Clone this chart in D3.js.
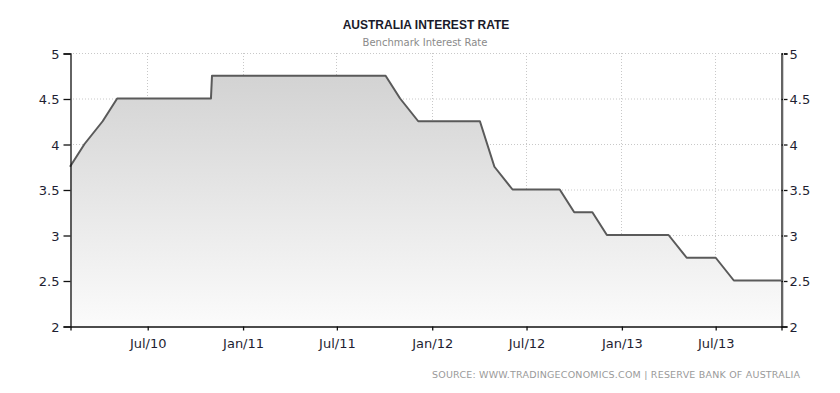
<!DOCTYPE html>
<html><head><meta charset="utf-8">
<script src="https://cdn.jsdelivr.net/npm/d3@7"></script>
<style>
body{margin:0;background:#fff;}
svg{display:block;}
.tick text{font-family:"DejaVu Sans",sans-serif;font-size:13px;fill:#1e1e32;}
</style></head>
<body><svg id="c" width="840" height="393"></svg>
<script>
const dates = ["2010-02-02","2010-03-02","2010-04-06","2010-05-04","2010-06-01","2010-07-06","2010-08-03","2010-09-07","2010-10-05","2010-11-01","2010-11-03","2010-12-07",
"2011-02-01","2011-03-01","2011-04-05","2011-05-03","2011-06-07","2011-07-05","2011-08-02","2011-09-06","2011-10-04","2011-11-01","2011-12-06",
"2012-02-07","2012-03-06","2012-04-03","2012-05-01","2012-06-05","2012-07-03","2012-08-07","2012-09-04","2012-10-02","2012-11-06","2012-12-04",
"2013-02-05","2013-03-05","2013-04-02","2013-05-07","2013-06-04","2013-07-02","2013-08-06","2013-09-03","2013-10-01","2013-11-05"];
const rates = [3.75,4.00,4.25,4.50,4.50,4.50,4.50,4.50,4.50,4.50,4.75,4.75,
4.75,4.75,4.75,4.75,4.75,4.75,4.75,4.75,4.75,4.50,4.25,
4.25,4.25,4.25,3.75,3.50,3.50,3.50,3.50,3.25,3.25,3.00,
3.00,3.00,3.00,2.75,2.75,2.75,2.50,2.50,2.50,2.50];
const yTicks = [2,2.5,3,3.5,4,4.5,5];
const xTickDates = ["2010-07-01","2011-01-01","2011-07-01","2012-01-01","2012-07-01","2013-01-01","2013-07-01"];
const xTickLabels = ["Jul/10","Jan/11","Jul/11","Jan/12","Jul/12","Jan/13","Jul/13"];
const title = "AUSTRALIA INTEREST RATE";
const subtitle = "Benchmark Interest Rate";
const source = "SOURCE: WWW.TRADINGECONOMICS.COM | RESERVE BANK OF AUSTRALIA";

const parse = d3.utcParse("%Y-%m-%d");
const data = dates.map((d,i)=>({date:parse(d), v:rates[i]}));
const L=70,R=781,T=53,B=326;
const svg = d3.select("#c");
const x = d3.scaleUtc().domain([parse("2010-02-02"),parse("2013-11-05")]).range([L,R]);
const y = d3.scaleLinear().domain([2,5]).range([B,T]);

const defs = svg.append("defs");
const g = defs.append("linearGradient").attr("id","ag").attr("gradientUnits","userSpaceOnUse")
  .attr("x1",0).attr("x2",0).attr("y1",T).attr("y2",B);
g.append("stop").attr("offset","0%").attr("stop-color","#cfcfcf");
g.append("stop").attr("offset","100%").attr("stop-color","#fbfbfb");

// grid
const xt = xTickDates.map(parse);
svg.append("g").selectAll("line").data(yTicks.slice(1)).join("line")
  .attr("x1",L).attr("x2",R).attr("y1",d=>y(d)+0.5).attr("y2",d=>y(d)+0.5)
  .attr("stroke","#c8c8c8").attr("stroke-dasharray","1,2");
svg.append("g").selectAll("line").data(xt).join("line")
  .attr("x1",d=>Math.round(x(d))+0.5).attr("x2",d=>Math.round(x(d))+0.5).attr("y1",T).attr("y2",B)
  .attr("stroke","#c8c8c8").attr("stroke-dasharray","1,2");

// area
svg.append("path").datum(data)
  .attr("d",d3.area().x(d=>x(d.date)).y0(B).y1(d=>y(d.v)))
  .attr("fill","url(#ag)");
svg.append("path").datum(data)
  .attr("d",d3.line().x(d=>x(d.date)).y(d=>y(d.v)))
  .attr("fill","none").attr("stroke","#5a5a5a").attr("stroke-width",2).attr("stroke-linejoin","round");

// axes
const yl = svg.append("g").attr("transform",`translate(${L+0.5},0.5)`)
  .call(d3.axisLeft(y).tickValues(yTicks).tickSize(7).tickPadding(4).tickFormat(d3.format("")));
const yr = svg.append("g").attr("transform",`translate(${R+0.5},0.5)`)
  .call(d3.axisRight(y).tickValues(yTicks).tickSize(6).tickPadding(2).tickFormat(d3.format("")));
const xa = svg.append("g").attr("transform",`translate(0.5,${B+0.5})`)
  .call(d3.axisBottom(x).tickValues(xt).tickSize(4).tickPadding(6).tickFormat((d,i)=>xTickLabels[i]));
[yl,yr,xa].forEach(a=>{a.select(".domain").attr("stroke","#111").attr("stroke-width",1.3);
  a.selectAll(".tick line").attr("stroke","#111").attr("stroke-width",1.3);});
yl.selectAll(".tick text").attr("dy","0.36em");
yr.selectAll(".tick text").attr("dy","0.36em");
xa.selectAll(".tick text").attr("dy","0.9em");
svg.append("line").attr("x1",R+2.5).attr("x2",R+2.5).attr("y1",T).attr("y2",B).attr("stroke","#d0d0d0");

// texts
svg.append("text").attr("x",426).attr("y",29).attr("text-anchor","middle")
  .attr("font-family","Liberation Sans, Arial, sans-serif").attr("font-weight","bold").attr("font-size",12)
  .attr("fill","#1a1a2a").text(title);
svg.append("text").attr("x",425).attr("y",46).attr("text-anchor","middle")
  .attr("font-family","DejaVu Sans, sans-serif").attr("font-size",10)
  .attr("fill","#8a8a8a").text(subtitle);
svg.append("text").attr("x",432).attr("y",378)
  .attr("font-family","DejaVu Sans, sans-serif").attr("font-size",9.5)
  .attr("textLength",368).attr("lengthAdjust","spacing")
  .attr("fill","#9a9a9a").text(source);
</script></body></html>
